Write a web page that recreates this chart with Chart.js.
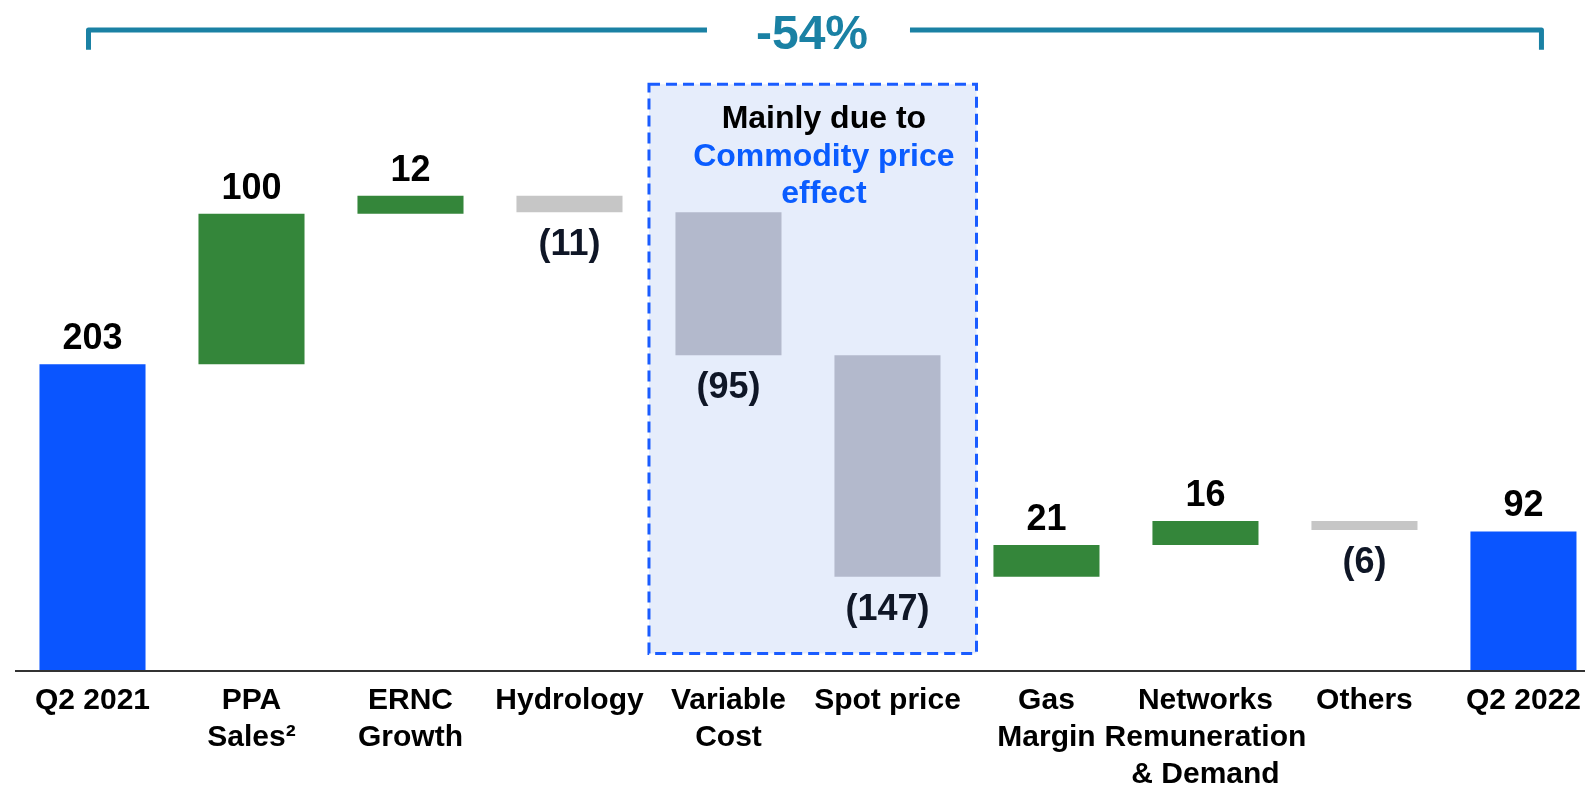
<!DOCTYPE html>
<html>
<head>
<meta charset="UTF-8">
<script src="https://cdn.jsdelivr.net/npm/chart.js"></script>
<style>
  html, body { margin: 0; padding: 0; background: #fff; overflow: hidden; }
  #wrap { width: 1585px; height: 785px; position: relative; }
</style>
</head>
<body>
<div id="wrap"><canvas id="chart"></canvas></div>
<script>
// data
const categories = [
  ['Q2 2021'], ['PPA', 'Sales²'], ['ERNC', 'Growth'], ['Hydrology'], ['Variable', 'Cost'],
  ['Spot price'], ['Gas', 'Margin'], ['Networks', 'Remuneration', '& Demand'], ['Others'], ['Q2 2022']
];
const values  = [203, 100, 12, -11, -95, -147, 21, 16, -6, 92];
const isTotal = [true, false, false, false, false, false, false, false, false, true];
const bracketText = '-54%';
const noteLines = ['Mainly due to', 'Commodity price', 'effect'];

const barColors = ['#0a55ff', '#34863a', '#34863a', '#c6c6c6', '#b3b9cc',
                   '#b3b9cc', '#34863a', '#34863a', '#c6c6c6', '#0a55ff'];
const FONT = '"Liberation Sans", Arial, sans-serif';

// floating ranges for the waterfall
let run = 0;
const ranges = values.map((v, i) => {
  if (isTotal[i]) { run = v; return [0, v]; }
  const r = [run, run + v];
  run += v;
  return r;
});

const fmt = v => v < 0 ? '(' + Math.abs(v) + ')' : String(v);

const decorations = {
  id: 'decorations',
  beforeDatasetsDraw(chart) {
    const { ctx } = chart;
    const x = chart.scales.x, y = chart.scales.y;
    // dashed note box behind variable cost / spot price
    const l = x.getPixelForValue(3.5), r = x.getPixelForValue(5.56);
    const t = y.getPixelForValue(389), b = y.getPixelForValue(11);
    ctx.save();
    ctx.fillStyle = '#e6edfb';
    ctx.fillRect(l, t, r - l, b - t);
    ctx.strokeStyle = '#1a5cff';
    ctx.lineWidth = 3;
    ctx.setLineDash([11, 6]);
    ctx.strokeRect(l, t, r - l, b - t);
    ctx.setLineDash([]);
    const cx = x.getPixelForValue(4.6);
    ctx.textAlign = 'center';
    ctx.textBaseline = 'alphabetic';
    ctx.font = 'bold 32px ' + FONT;
    [360, 335, 310].forEach((v, i) => {
      ctx.fillStyle = i === 0 ? '#000' : '#0a5cff';
      ctx.fillText(noteLines[i], cx, y.getPixelForValue(v));
    });
    ctx.restore();
  },
  afterDatasetsDraw(chart) {
    const { ctx } = chart;
    const x = chart.scales.x, y = chart.scales.y;
    const meta = chart.getDatasetMeta(0);
    ctx.save();
    ctx.font = 'bold 36px ' + FONT;
    ctx.textAlign = 'center';
    ctx.textBaseline = 'alphabetic';
    meta.data.forEach((el, i) => {
      const top = Math.min(el.y, el.base), bottom = Math.max(el.y, el.base);
      if (values[i] < 0) {
        ctx.fillStyle = '#0f1626';
        ctx.fillText(fmt(values[i]), el.x, bottom + 43);
      } else {
        ctx.fillStyle = '#000';
        ctx.fillText(fmt(values[i]), el.x, top - 15);
      }
    });

    // baseline
    const y0 = y.getPixelForValue(0);
    ctx.strokeStyle = '#333';
    ctx.lineWidth = 2;
    ctx.beginPath();
    ctx.moveTo(15, y0 + 1);
    ctx.lineTo(chart.width, y0 + 1);
    ctx.stroke();

    // bracket with change label
    const by = y.getPixelForValue(425), bEnd = y.getPixelForValue(412);
    const bl = x.getPixelForValue(0) - 4, br = x.getPixelForValue(9) + 18;
    const mid = (x.getPixelForValue(4) + x.getPixelForValue(5)) / 2;
    ctx.strokeStyle = '#1a81a4';
    ctx.lineWidth = 5;
    ctx.lineJoin = 'round';
    ctx.beginPath();
    ctx.moveTo(bl, bEnd);
    ctx.lineTo(bl, by);
    ctx.lineTo(mid - 101, by);
    ctx.moveTo(mid + 102, by);
    ctx.lineTo(br, by);
    ctx.lineTo(br, bEnd);
    ctx.stroke();
    ctx.fillStyle = '#1a81a4';
    ctx.font = 'bold 48px ' + FONT;
    ctx.fillText(bracketText, mid + 4, by + 19);
    ctx.restore();
  }
};

new Chart(document.getElementById('chart'), {
  type: 'bar',
  data: {
    labels: categories,
    datasets: [{
      data: ranges,
      backgroundColor: barColors,
      borderWidth: 0,
      categoryPercentage: 1,
      barPercentage: 0.667,
      clip: false
    }]
  },
  options: {
    responsive: true,
    maintainAspectRatio: false,
    animation: false,
    layout: { padding: { left: 92.5, right: 57, top: 0, bottom: 0 } },
    plugins: { legend: { display: false }, tooltip: { enabled: false } },
    scales: {
      x: {
        offset: false,
        grid: { display: false },
        border: { display: false },
        afterFit(scale) { scale.height = 115; },
        ticks: {
          color: '#000',
          font: { family: FONT, size: 30, weight: 'bold', lineHeight: 1.24 },
          padding: 4,
          maxRotation: 0,
          autoSkip: false
        }
      },
      y: { display: false, min: 0, max: 445 }
    }
  },
  plugins: [decorations]
});
</script>
</body>
</html>
